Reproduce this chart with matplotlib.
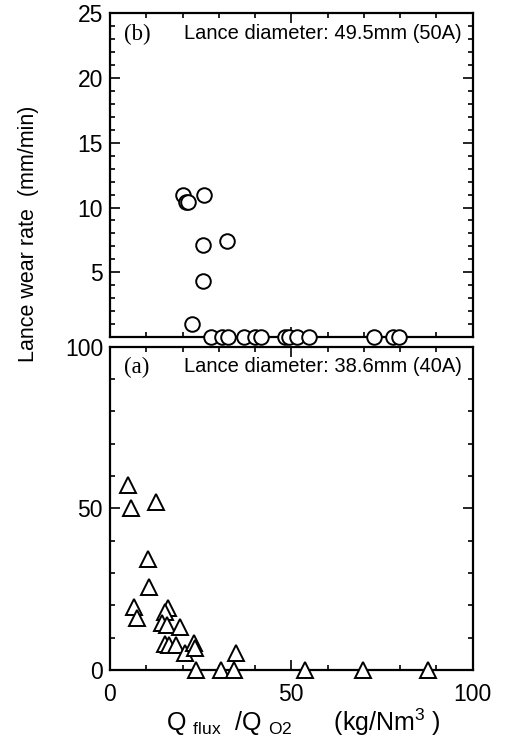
import matplotlib
matplotlib.use("Agg")
import matplotlib.pyplot as plt
from matplotlib.ticker import MultipleLocator

# Panel (b): Lance diameter 49.5 mm (50A) -- circles
b_x = [20.0, 20.9, 21.6, 26.0, 25.7, 32.2, 25.7, 22.6,
       27.8, 30.8, 32.6, 37.0, 40.0, 41.6, 48.4, 49.5, 51.5, 54.9, 72.8, 78.1, 79.8]
b_y = [11.0, 10.4, 10.4, 11.0, 7.1, 7.4, 4.3, 1.0,
       0, 0, 0, 0, 0, 0, 0, 0, 0, 0, 0, 0, 0]

# Panel (a): Lance diameter 38.6 mm (40A) -- triangles
a_x = [5.1, 5.7, 12.6, 10.4, 10.8, 6.6, 7.5, 16.1, 15.2, 14.3, 15.6, 19.3,
       15.2, 16.4, 18.2, 20.7, 23.2, 23.4, 34.7,
       23.7, 30.6, 34.3, 53.9, 69.7, 87.6]
a_y = [57.2, 50.0, 52.0, 34.3, 25.8, 19.6, 16.0, 19.1, 17.8, 14.4, 14.0, 13.4,
       8.2, 7.8, 7.8, 5.4, 8.5, 6.7, 5.4,
       0, 0, 0, 0, 0, 0]

top_ticks = [5, 10, 15, 20, 25]
bot_ticks = [0, 50, 100]
x_ticks = [0, 50, 100]

plt.rcParams['font.family'] = ['Liberation Sans', 'DejaVu Sans']

fig = plt.figure(figsize=(5.05, 7.42), dpi=100)
ax_b = fig.add_axes([0.2178, 0.5458, 0.718, 0.4362])
ax_a = fig.add_axes([0.2178, 0.0970, 0.718, 0.4358])

for ax in (ax_b, ax_a):
    ax.set_xlim(0, 100)
    ax.xaxis.set_major_locator(MultipleLocator(50))
    ax.xaxis.set_minor_locator(MultipleLocator(10))
    ax.tick_params(which='both', direction='in', top=True, right=True, width=1.2)
    ax.tick_params(which='major', length=7, labelsize=16.5)
    ax.tick_params(axis='y', which='major', pad=5)
    ax.tick_params(axis='x', which='major', pad=9)
    ax.tick_params(which='minor', length=3.5)
    for s in ax.spines.values():
        s.set_linewidth(1.6)

ax_b.set_ylim(0, 25)
ax_b.set_yticks(top_ticks)
ax_b.yaxis.set_minor_locator(MultipleLocator(1))
ax_b.tick_params(labelbottom=False)
ax_b.plot(b_x, b_y, linestyle='none', marker='o', ms=10.5, mfc='white',
          mec='black', mew=1.4, clip_on=False, zorder=5)
ax_b.text(0.04, 0.968, '(b)', transform=ax_b.transAxes, ha='left', va='top',
          fontsize=16.5, family=['Liberation Serif', 'DejaVu Serif'])
ax_b.text(0.97, 0.968, 'Lance diameter: 49.5mm (50A)', transform=ax_b.transAxes,
          ha='right', va='top', fontsize=14.5)

ax_a.set_ylim(0, 100)
ax_a.set_yticks(bot_ticks)
ax_a.yaxis.set_minor_locator(MultipleLocator(10))
ax_a.set_xticks(x_ticks)
ax_a.plot(a_x, a_y, linestyle='none', marker='^', ms=12, mfc='white',
          mec='black', mew=1.4, clip_on=False, zorder=5)
ax_a.text(0.04, 0.968, '(a)', transform=ax_a.transAxes, ha='left', va='top',
          fontsize=16.5, family=['Liberation Serif', 'DejaVu Serif'])
ax_a.text(0.97, 0.968, 'Lance diameter: 38.6mm (40A)', transform=ax_a.transAxes,
          ha='right', va='top', fontsize=14.5)

fig.text(29 / 505, 1 - 234 / 742, 'Lance wear rate  (mm/min)', rotation=90,
         ha='center', va='center', fontsize=15.5)
fig.text(303 / 505, 1 - 722 / 742,
         r'Q $_{\mathregular{flux}}$  /Q $_{\mathregular{O2}}$      (kg/Nm$^{\mathregular{3}}$ )',
         ha='center', va='center', fontsize=18)

fig.savefig('out.png', dpi=100)
